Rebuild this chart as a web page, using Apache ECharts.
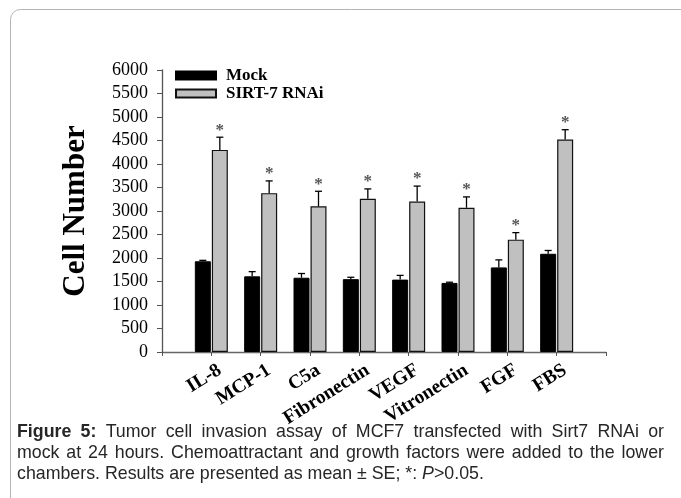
<!DOCTYPE html>
<html><head><meta charset="utf-8">
<script src="https://cdn.jsdelivr.net/npm/echarts@6/dist/echarts.min.js"></script>
<style>html,body{margin:0;padding:0;background:#fff}#c{width:681px;height:498px}</style>
</head><body><div id="c"></div>
<script>
// ---- data ----
const categories = ['IL-8','MCP-1','C5a','Fibronectin','VEGF','Vitronectin','FGF','FBS'];
const mockValues = [1930, 1610, 1580, 1550, 1540, 1470, 1800, 2090];
const mockErrors = [20, 100, 90, 40, 90, 15, 160, 70];
const sirtValues = [4300, 3380, 3100, 3260, 3200, 3070, 2390, 4520];
const sirtErrors = [270, 260, 320, 210, 330, 230, 150, 210];
const sirtStars = ['*','*','*','*','*','*','*','*'];
const seriesNames = ['Mock','SIRT-7 RNAi'];
const yMin = 0, yMax = 6000, yInterval = 500;
const captionLines = [
  [{t:'Figure',b:true},{t:'5:',b:true},{t:'Tumor'},{t:'cell'},{t:'invasion'},{t:'assay'},{t:'of'},{t:'MCF7'},{t:'transfected'},{t:'with'},{t:'Sirt7'},{t:'RNAi'},{t:'or'}],
  [{t:'mock'},{t:'at'},{t:'24'},{t:'hours.'},{t:'Chemoattractant'},{t:'and'},{t:'growth'},{t:'factors'},{t:'were'},{t:'added'},{t:'to'},{t:'the'},{t:'lower'}],
  [{t:'chambers.'},{t:'Results'},{t:'are'},{t:'presented'},{t:'as'},{t:'mean'},{t:'\u00b1'},{t:'SE;'},{t:'*:'},{t:'P',i:true},{t:'>0.05.',j:true}]
];
const captionJustify = [true, true, false];

// ---- layout / style ----
const BAR_W = 16, BAR_GAP = 1;
const OFF = (BAR_W + BAR_GAP) / 2;
const SERIF = '"Liberation Serif", "Times New Roman", serif';
const SANS = '"Liberation Sans", Arial, sans-serif';
const CAP_FS = 17.8, CAP_L = 17, CAP_R = 664, CAP_BASE = [441, 462, 483];

const ctx = document.createElement('canvas').getContext('2d');
function segFont(s){ return (s.i?'italic ':'') + (s.b?'bold ':'') + CAP_FS + 'px ' + SANS; }
const graphics = [{
  type:'rect', z:-10, silent:true,
  shape:{x:10.5, y:9.5, width:720, height:510, r:10},
  style:{fill:'none', stroke:'#b4b4b4', lineWidth:1}
}];
captionLines.forEach((line, li) => {
  const words = [];
  line.forEach(s => { if (s.j && words.length) words[words.length-1].push(s); else words.push([s]); });
  ctx.font = CAP_FS + 'px ' + SANS;
  const sp = ctx.measureText(' ').width;
  const widths = words.map(w => w.reduce((a, s) => { ctx.font = segFont(s); return a + ctx.measureText(s.t).width; }, 0));
  const total = widths.reduce((a, b) => a + b, 0);
  const gap = captionJustify[li] ? (CAP_R - CAP_L - total) / (words.length - 1) : sp;
  let x = CAP_L;
  words.forEach((w, wi) => {
    let xx = x;
    w.forEach(s => {
      ctx.font = segFont(s);
      graphics.push({type:'text', silent:true, x:xx, y:CAP_BASE[li],
        style:{text:s.t, font:segFont(s), fill:'#262626', textAlign:'left', textVerticalAlign:'bottom'}});
      xx += ctx.measureText(s.t).width;
    });
    x += widths[wi] + gap;
  });
});

function errRender(offset, errs, stars){
  return function(params, api){
    const xi = api.value(0), v = api.value(1), e = api.value(2);
    const b = api.coord([xi, v]);
    const t = api.coord([xi, v + e]);
    const cx = b[0] + offset;
    const ls = {stroke:'#000', lineWidth:1.3};
    const ch = [
      {type:'line', shape:{x1:cx, y1:b[1], x2:cx, y2:t[1]}, style:ls},
      {type:'line', shape:{x1:cx-3.5, y1:t[1], x2:cx+3.5, y2:t[1]}, style:ls}
    ];
    if (stars && stars[params.dataIndex]) {
      ch.push({type:'text', x:cx, y:t[1]-7, style:{text:stars[params.dataIndex], font:'bold 17px ' + SERIF, fill:'#555', textAlign:'center', textVerticalAlign:'middle'}});
    }
    return {type:'group', children:ch};
  };
}

const chart = echarts.init(document.getElementById('c'), null, {renderer:'canvas'});
chart.setOption({
  animation:false,
  backgroundColor:'#fff',
  grid:{left:162, right:75, top:70, bottom:146, containLabel:false},
  legend:{
    data:seriesNames, orient:'vertical', left:175, top:67, padding:0,
    itemWidth:40, itemHeight:8, itemGap:1, icon:'rect', selectedMode:false,
    textStyle:{fontFamily:SERIF, fontWeight:'bold', fontSize:17, color:'#000', lineHeight:17, padding:[0,0,0,5]}
  },
  xAxis:{
    type:'category', data:[''].concat(categories, ['']), boundaryGap:false,
    axisLine:{show:true, lineStyle:{color:'#666', width:1.3}},
    axisTick:{show:true, interval:0, length:4, inside:false, lineStyle:{color:'#555', width:1}},
    splitLine:{show:false},
    axisLabel:{interval:0, rotate:32, margin:22,
      formatter: v => v ? '{a|' + v + '}' : '',
      rich:{a:{fontFamily:SERIF, fontWeight:'bold', fontSize:19.5, color:'#000', lineHeight:19, padding:[0,-10,0,0]}}}
  },
  yAxis:{
    type:'value', min:yMin, max:yMax, interval:yInterval,
    name:'Cell Number', nameLocation:'middle', nameGap:71, nameRotate:90,
    nameTextStyle:{fontFamily:SERIF, fontWeight:'bold', fontSize:31, color:'#000'},
    axisLine:{show:true, lineStyle:{color:'#555', width:1.3}},
    axisTick:{show:true, length:5, inside:false, lineStyle:{color:'#555', width:1}},
    splitLine:{show:false},
    axisLabel:{margin:14, fontFamily:SERIF, fontSize:18, color:'#000', formatter: v => String(v)}
  },
  series:[
    {name:seriesNames[0], type:'bar', barWidth:BAR_W, barGap:(BAR_GAP/BAR_W*100)+'%',
      data:mockValues.map((v,i)=>[i+1, v]),
      itemStyle:{color:'#000', borderColor:'#000', borderWidth:1}},
    {name:seriesNames[1], type:'bar', barWidth:BAR_W,
      data:sirtValues.map((v,i)=>[i+1, v]),
      itemStyle:{color:'#c0c0c0', borderColor:'#111', borderWidth:1.2}},
    {name:'mockErr', type:'custom', z:5, renderItem:errRender(-OFF, mockErrors, null),
      data:mockValues.map((v,i)=>[i+1, v, mockErrors[i]])},
    {name:'sirtErr', type:'custom', z:5, renderItem:errRender(OFF, sirtErrors, sirtStars),
      data:sirtValues.map((v,i)=>[i+1, v, sirtErrors[i]])}
  ],
  graphic:graphics
});
</script></body></html>
